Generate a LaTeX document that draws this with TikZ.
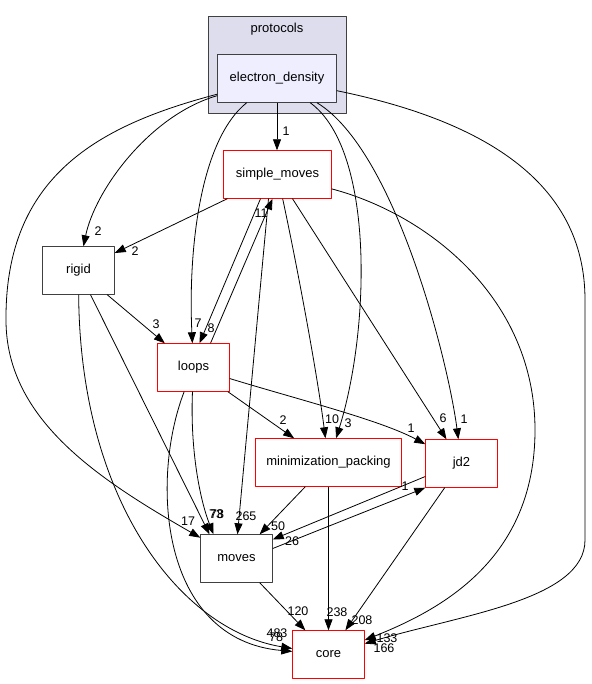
\documentclass[tikz,border=0pt]{standalone}
\usepackage{fontspec}
\setmainfont{Liberation Sans}
\usetikzlibrary{arrows.meta}
\definecolor{clusterfill}{HTML}{DDDDEE}
\definecolor{edfill}{HTML}{EEEEFF}
\definecolor{frame}{HTML}{404040}
\definecolor{boxred}{HTML}{FF0000}
\begin{document}
\begin{tikzpicture}[x=1pt, y=-1pt, line join=round, >={Triangle[length=11pt,width=8pt]},
	dirbox/.style={minimum width=72pt, minimum height=48pt, inner xsep=4pt, fill=white, font=\fontsize{13}{15}\selectfont},
	redline/.style={draw=boxred, line width=1pt},
	blackline/.style={draw=frame, line width=1pt},
	dep/.style={->, draw=black, line width=0.8pt},
	num/.style={inner sep=0pt, font=\fontsize{12.5}{14}\selectfont}]
	\useasboundingbox[fill=white] (0,0) rectangle (591,684);
	% protocols
	\filldraw[fill=clusterfill, draw=frame, line width=1pt] (208.5,16.5) rectangle (346.5,113.5);
	\node[font=\fontsize{13}{15}\selectfont] (protocols) at (277,29) {protocols};
	\node[dirbox, minimum width=119pt, fill=edfill] (ed) at (277,78.5) {electron\_density};
	% thư mục
	\node[dirbox, minimum width=108pt] (sm) at (277.5,174.5) {simple\_moves};
	\node[dirbox] (rigid) at (78.5,270.5) {rigid};
	\node[dirbox] (loops) at (193.5,367.5) {loops};
	\node[dirbox, minimum width=146pt] (mp) at (328.5,462.5) {minimization\_packing};
	\node[dirbox] (jd2) at (461.5,463.5) {jd2};
	\node[dirbox] (moves) at (236.5,558.5) {moves};
	\node[dirbox] (core) at (328.5,654.5) {core};
	% khung
	\foreach \n in {ed,rigid,moves}
		\draw[blackline] (\n.south west) rectangle (\n.north east);
	\foreach \n in {sm,loops,mp,jd2,core}
		\draw[redline] (\n.south west) rectangle (\n.north east);
	% electron_density
	\draw[dep] (ed) -- (ed |- sm.north) node[num] at (286,131) {1};
	\draw[dep] (ed) .. controls (150,115) and (95,190) .. (rigid) node[num] at (98,231) {2};
	\draw[dep] (ed) .. controls (100,125) and (5,175) .. (6,320) .. controls (6,420) and (100,480) .. (moves) node[num] at (188,521) {17};
	\draw[dep] (ed) .. controls (200,140) and (188,250) .. (loops) node[num] at (198,323) {7};
	\draw[dep] (ed) .. controls (375,150) and (370,330) .. (mp) node[num] at (348,423) {3};
	\draw[dep] (ed) .. controls (395,150) and (448,360) .. (jd2) node[num] at (464,419) {1};
	\draw[dep] (ed) .. controls (480,120) and (585,180) .. (585,300) -- (585,540) .. controls (585,600) and (460,615) .. (core) node[num] at (384,648) {166};
	% simple_moves
	\draw[dep] (sm) -- (rigid) node[num] at (135,251) {2};
	\draw[dep] ([xshift=-17pt]sm.south) -- ([xshift=6pt]loops.north) node[num] at (211,328) {8};
	\draw[dep] ([xshift=-9pt]sm.south) -- ([xshift=1pt]moves.north) node[num] at (246,516) {265};
	\draw[dep] (sm) .. controls (300,280) and (318,380) .. (mp) node[num] at (332,419) {10};
	\draw[dep] ([xshift=15pt]sm.south) -- ([xshift=-15pt]jd2.north) node[num] at (443,418) {6};
	\draw[dep] (sm) .. controls (430,215) and (535,300) .. (535,430) .. controls (535,560) and (440,610) .. (core) node[num] at (387,638) {133};
	% rigid
	\draw[dep] (rigid) -- (loops) node[num] at (156,324) {3};
	\draw[dep] ([xshift=12pt]rigid.south) -- ([xshift=-27pt]moves.north) node[num] at (216,514) {73};
	\draw[dep] (rigid) .. controls (80,500) and (180,630) .. (core) node[num] at (276,637) {78};
	% loops
	\draw[dep] ([xshift=17pt]loops.north) -- ([xshift=-5pt]sm.south) node[num] at (261,213) {11};
	\draw[dep] (loops) .. controls (190,450) and (200,500) .. ([xshift=-23pt]moves.north) node[num] at (217,514) {78};
	\draw[dep] (loops) .. controls (150,480) and (160,640) .. (core) node[num] at (277,633) {483};
	\draw[dep] (loops) -- (mp) node[num] at (283,420) {2};
	\draw[dep] (loops) .. controls (300,400) and (380,420) .. (jd2) node[num] at (411,428) {1};
	% minimization_packing, jd2, moves
	\draw[dep] (mp) -- (moves) node[num] at (278,526) {50};
	\draw[dep] (mp) -- (core) node[num] at (337,612) {238};
	\draw[dep] ([yshift=-13pt]jd2.west) -- ([yshift=19pt]moves.east) node[num] at (292,541) {26};
	\draw[dep] ([yshift=10pt]moves.east) -- (jd2.south west) node[num] at (405,486) {1};
	\draw[dep] (jd2) -- (core) node[num] at (362,620) {208};
	\draw[dep] (moves) -- (core) node[num] at (298,611) {120};
\end{tikzpicture}
\end{document}
